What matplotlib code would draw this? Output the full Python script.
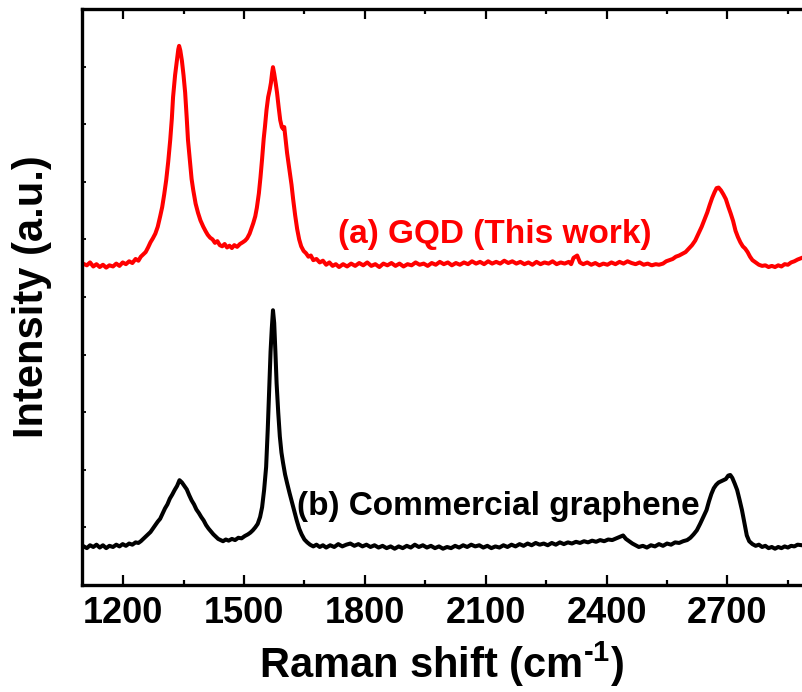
import matplotlib
matplotlib.use("Agg")
import matplotlib.pyplot as plt
from matplotlib.ticker import MultipleLocator, NullFormatter

plt.rcParams['font.family'] = ['Liberation Sans', 'DejaVu Sans']
plt.rcParams['font.weight'] = 'bold'
plt.rcParams['mathtext.fontset'] = 'custom'
plt.rcParams['mathtext.rm'] = 'Liberation Sans:bold'
plt.rcParams['mathtext.bf'] = 'Liberation Sans:bold'
plt.rcParams['mathtext.default'] = 'rm'

# (a) GQD, this work -- Raman shift (cm-1) and intensity (a.u., offset)
gqd_shift = [
    1100, 1110, 1118, 1126, 1134, 1142, 1150, 1158, 1166, 1175, 1183, 1191, 1199, 1207,
    1215, 1223, 1231, 1238, 1244, 1250, 1256, 1262, 1268, 1274, 1280, 1286, 1292, 1297,
    1302, 1307, 1312, 1317, 1321, 1324, 1329, 1334, 1337, 1339, 1342, 1346, 1350, 1354,
    1358, 1361, 1366, 1370, 1374, 1380, 1386, 1392, 1399, 1405, 1410, 1416, 1422, 1428,
    1434, 1440, 1446, 1452, 1458, 1464, 1470, 1476, 1483, 1490, 1497, 1503, 1508, 1514,
    1519, 1523, 1528, 1532, 1537, 1541, 1545, 1549, 1552, 1556, 1560, 1564, 1567, 1570,
    1572, 1575, 1579, 1582, 1586, 1590, 1594, 1597, 1600, 1604, 1607, 1611, 1614, 1618,
    1622, 1627, 1632, 1637, 1642, 1648, 1654, 1660, 1666, 1672, 1680, 1688, 1696, 1704,
    1712, 1720, 1728, 1736, 1746, 1756, 1766, 1776, 1786, 1796, 1806, 1816, 1826, 1836,
    1846, 1856, 1866, 1876, 1886, 1896, 1906, 1916, 1926, 1936, 1946, 1956, 1966, 1976,
    1986, 1996, 2006, 2016, 2026, 2036, 2046, 2056, 2066, 2076, 2086, 2096, 2106, 2116,
    2126, 2136, 2146, 2156, 2166, 2176, 2186, 2196, 2206, 2216, 2226, 2236, 2246, 2256,
    2266, 2276, 2286, 2296, 2306, 2312, 2318, 2327, 2334, 2342, 2352, 2362, 2372, 2382,
    2392, 2402, 2412, 2422, 2432, 2442, 2452, 2462, 2472, 2482, 2492, 2502, 2512, 2522,
    2530, 2540, 2548, 2556, 2564, 2572, 2580, 2588, 2596, 2604, 2612, 2620, 2628, 2636,
    2644, 2650, 2656, 2662, 2668, 2673, 2678, 2684, 2690, 2696, 2702, 2708, 2714, 2720,
    2726, 2732, 2738, 2744, 2750, 2756, 2762, 2770, 2778, 2786, 2794, 2802, 2810, 2818,
    2826, 2834, 2842, 2850, 2858, 2866, 2874, 2885,
]
gqd_int = [
    5.58, 5.55, 5.60, 5.53, 5.57, 5.52, 5.56, 5.51, 5.55, 5.53, 5.58, 5.54, 5.60, 5.57,
    5.62, 5.59, 5.66, 5.63, 5.70, 5.74, 5.78, 5.86, 5.95, 6.02, 6.10, 6.22, 6.40, 6.56,
    6.78, 7.03, 7.35, 7.73, 8.10, 8.47, 8.85, 9.13, 9.30, 9.36, 9.28, 9.10, 8.85, 8.55,
    8.10, 7.73, 7.35, 7.05, 6.86, 6.62, 6.46, 6.33, 6.22, 6.14, 6.08, 6.03, 6.00, 5.94,
    5.97, 5.90, 5.88, 5.92, 5.86, 5.89, 5.85, 5.90, 5.87, 5.92, 5.95, 5.98, 6.02, 6.10,
    6.20, 6.28, 6.40, 6.55, 6.80, 7.08, 7.40, 7.75, 7.95, 8.25, 8.47, 8.60, 8.72, 8.90,
    8.99, 8.88, 8.70, 8.55, 8.30, 8.07, 7.95, 7.92, 7.95, 7.70, 7.50, 7.30, 7.15, 6.95,
    6.70, 6.42, 6.18, 6.00, 5.88, 5.80, 5.76, 5.70, 5.72, 5.64, 5.66, 5.60, 5.63, 5.56,
    5.60, 5.54, 5.57, 5.52, 5.57, 5.53, 5.58, 5.54, 5.59, 5.55, 5.60, 5.54, 5.57, 5.52,
    5.58, 5.55, 5.59, 5.54, 5.58, 5.53, 5.57, 5.55, 5.60, 5.56, 5.58, 5.54, 5.59, 5.56,
    5.61, 5.57, 5.60, 5.55, 5.59, 5.56, 5.60, 5.57, 5.62, 5.58, 5.61, 5.57, 5.62, 5.58,
    5.61, 5.58, 5.63, 5.59, 5.62, 5.58, 5.61, 5.57, 5.60, 5.56, 5.61, 5.57, 5.60, 5.58,
    5.62, 5.57, 5.60, 5.58, 5.61, 5.57, 5.68, 5.72, 5.60, 5.57, 5.60, 5.56, 5.59, 5.55,
    5.58, 5.56, 5.60, 5.57, 5.61, 5.58, 5.62, 5.59, 5.57, 5.60, 5.56, 5.58, 5.55, 5.57,
    5.56, 5.58, 5.62, 5.64, 5.66, 5.70, 5.72, 5.75, 5.78, 5.84, 5.90, 5.98, 6.10, 6.22,
    6.36, 6.47, 6.60, 6.72, 6.82, 6.89, 6.90, 6.85, 6.78, 6.70, 6.57, 6.45, 6.32, 6.15,
    6.04, 5.95, 5.88, 5.84, 5.78, 5.70, 5.64, 5.60, 5.56, 5.54, 5.55, 5.52, 5.54, 5.52,
    5.55, 5.53, 5.57, 5.56, 5.60, 5.62, 5.65, 5.68,
]

# (b) commercial graphene
com_shift = [
    1100, 1110, 1118, 1126, 1134, 1142, 1150, 1158, 1166, 1175, 1183, 1191, 1199, 1207,
    1215, 1223, 1231, 1238, 1244, 1250, 1256, 1262, 1268, 1274, 1280, 1286, 1292, 1298,
    1304, 1310, 1316, 1322, 1328, 1334, 1340, 1346, 1352, 1358, 1364, 1370, 1376, 1382,
    1388, 1394, 1400, 1406, 1412, 1418, 1424, 1430, 1436, 1442, 1448, 1455, 1462, 1470,
    1478, 1486, 1494, 1502, 1510, 1516, 1522, 1528, 1534, 1540, 1545, 1550, 1555, 1559,
    1563, 1566, 1569, 1572, 1575, 1578, 1581, 1585, 1589, 1593, 1597, 1602, 1607, 1613,
    1619, 1625, 1631, 1637, 1643, 1650, 1657, 1664, 1672, 1680, 1688, 1696, 1704, 1714,
    1724, 1734, 1744, 1754, 1764, 1774, 1784, 1794, 1804, 1814, 1824, 1834, 1844, 1854,
    1864, 1874, 1884, 1894, 1904, 1914, 1924, 1934, 1944, 1954, 1964, 1974, 1984, 1994,
    2004, 2014, 2024, 2034, 2044, 2054, 2064, 2074, 2084, 2094, 2104, 2114, 2124, 2134,
    2144, 2154, 2164, 2174, 2184, 2194, 2204, 2214, 2224, 2234, 2244, 2254, 2264, 2274,
    2284, 2294, 2304, 2314, 2324, 2334, 2344, 2354, 2364, 2374, 2384, 2394, 2404, 2414,
    2424, 2434, 2441, 2448, 2456, 2464, 2472, 2480, 2490, 2500, 2510, 2520, 2530, 2540,
    2550, 2560, 2570, 2580, 2590, 2600, 2608, 2616, 2624, 2632, 2640, 2648, 2654, 2660,
    2666, 2672, 2678, 2684, 2690, 2696, 2702, 2707, 2712, 2718, 2724, 2730, 2736, 2742,
    2748, 2754, 2762, 2770, 2778, 2786, 2794, 2802, 2810, 2818, 2826, 2834, 2842, 2850,
    2858, 2866, 2874, 2885,
]
com_int = [
    0.68, 0.64, 0.69, 0.66, 0.70, 0.65, 0.69, 0.64, 0.68, 0.66, 0.70, 0.67, 0.71, 0.68,
    0.72, 0.70, 0.74, 0.73, 0.76, 0.80, 0.84, 0.88, 0.92, 0.98, 1.04, 1.10, 1.15, 1.24,
    1.33, 1.40, 1.50, 1.57, 1.65, 1.72, 1.82, 1.78, 1.72, 1.66, 1.56, 1.47, 1.40, 1.31,
    1.25, 1.18, 1.12, 1.04, 0.98, 0.93, 0.88, 0.84, 0.80, 0.78, 0.76, 0.79, 0.77, 0.80,
    0.78, 0.82, 0.81, 0.85, 0.88, 0.91, 0.95, 1.00, 1.06, 1.18, 1.35, 1.65, 2.05, 2.70,
    3.50, 4.05, 4.45, 4.77, 4.55, 4.05, 3.50, 3.00, 2.58, 2.30, 2.12, 1.92, 1.77, 1.60,
    1.44, 1.28, 1.12, 0.98, 0.88, 0.79, 0.74, 0.70, 0.67, 0.70, 0.66, 0.69, 0.65, 0.69,
    0.66, 0.71, 0.67, 0.70, 0.72, 0.68, 0.71, 0.67, 0.70, 0.66, 0.69, 0.65, 0.68, 0.64,
    0.67, 0.63, 0.67, 0.64, 0.68, 0.65, 0.70, 0.66, 0.69, 0.65, 0.68, 0.64, 0.67, 0.63,
    0.66, 0.64, 0.68, 0.65, 0.69, 0.66, 0.70, 0.67, 0.69, 0.65, 0.68, 0.64, 0.67, 0.65,
    0.69, 0.66, 0.70, 0.67, 0.71, 0.68, 0.72, 0.69, 0.73, 0.70, 0.72, 0.69, 0.73, 0.70,
    0.74, 0.71, 0.74, 0.72, 0.75, 0.73, 0.76, 0.74, 0.77, 0.75, 0.78, 0.76, 0.79, 0.78,
    0.81, 0.84, 0.86, 0.80, 0.76, 0.72, 0.69, 0.66, 0.68, 0.65, 0.69, 0.67, 0.71, 0.68,
    0.72, 0.70, 0.74, 0.73, 0.76, 0.78, 0.82, 0.88, 0.95, 1.06, 1.18, 1.30, 1.45, 1.58,
    1.68, 1.74, 1.78, 1.80, 1.82, 1.84, 1.90, 1.91, 1.86, 1.76, 1.65, 1.48, 1.30, 1.08,
    0.86, 0.76, 0.71, 0.68, 0.70, 0.66, 0.68, 0.64, 0.66, 0.63, 0.66, 0.64, 0.67, 0.65,
    0.68, 0.67, 0.70, 0.69,
]

x_ticks = [1200, 1500, 1800, 2100, 2400, 2700]

fig = plt.figure(figsize=(8.02, 6.92), dpi=100)
ax = fig.add_axes([82 / 802, 1 - 585 / 692, 1 - 82 / 802, 576 / 692])

ax.plot(gqd_shift, gqd_int, color='#ff0000', lw=2.9)
ax.plot(com_shift, com_int, color='black', lw=2.9)

ax.text(2123, 6.09, '(a) GQD (This work)', color='#ff0000', fontsize=24,
        fontweight='bold', ha='center', va='center')
ax.text(2131, 1.37, '(b) Commercial graphene', color='black', fontsize=24,
        fontweight='bold', ha='center', va='center')

ax.set_xlim(1098, 2885)
ax.set_ylim(0, 10)
ax.set_xticks(x_ticks)
ax.xaxis.set_minor_locator(MultipleLocator(150))
ax.set_yticks(range(0, 11))
ax.yaxis.set_major_formatter(NullFormatter())

for s in ['left', 'bottom', 'top']:
    ax.spines[s].set_linewidth(2.4)
ax.spines['right'].set_visible(False)

ax.tick_params(axis='x', which='major', direction='in', length=7, width=1.6,
               labelsize=26, pad=8, top=True)
ax.tick_params(axis='x', which='minor', direction='in', length=3.5, width=1.6, top=True)
ax.tick_params(axis='y', which='major', direction='in', length=3, width=1.3, right=False)
for lab in ax.get_xticklabels():
    lab.set_fontweight('bold')

ax.set_xlabel(r'Raman shift (cm$^{\text{-1}}$)', fontsize=30, fontweight='bold', labelpad=6)
ax.set_ylabel('Intensity (a.u.)', fontsize=30, fontweight='bold', labelpad=18)

fig.savefig('out.png', dpi=100)
